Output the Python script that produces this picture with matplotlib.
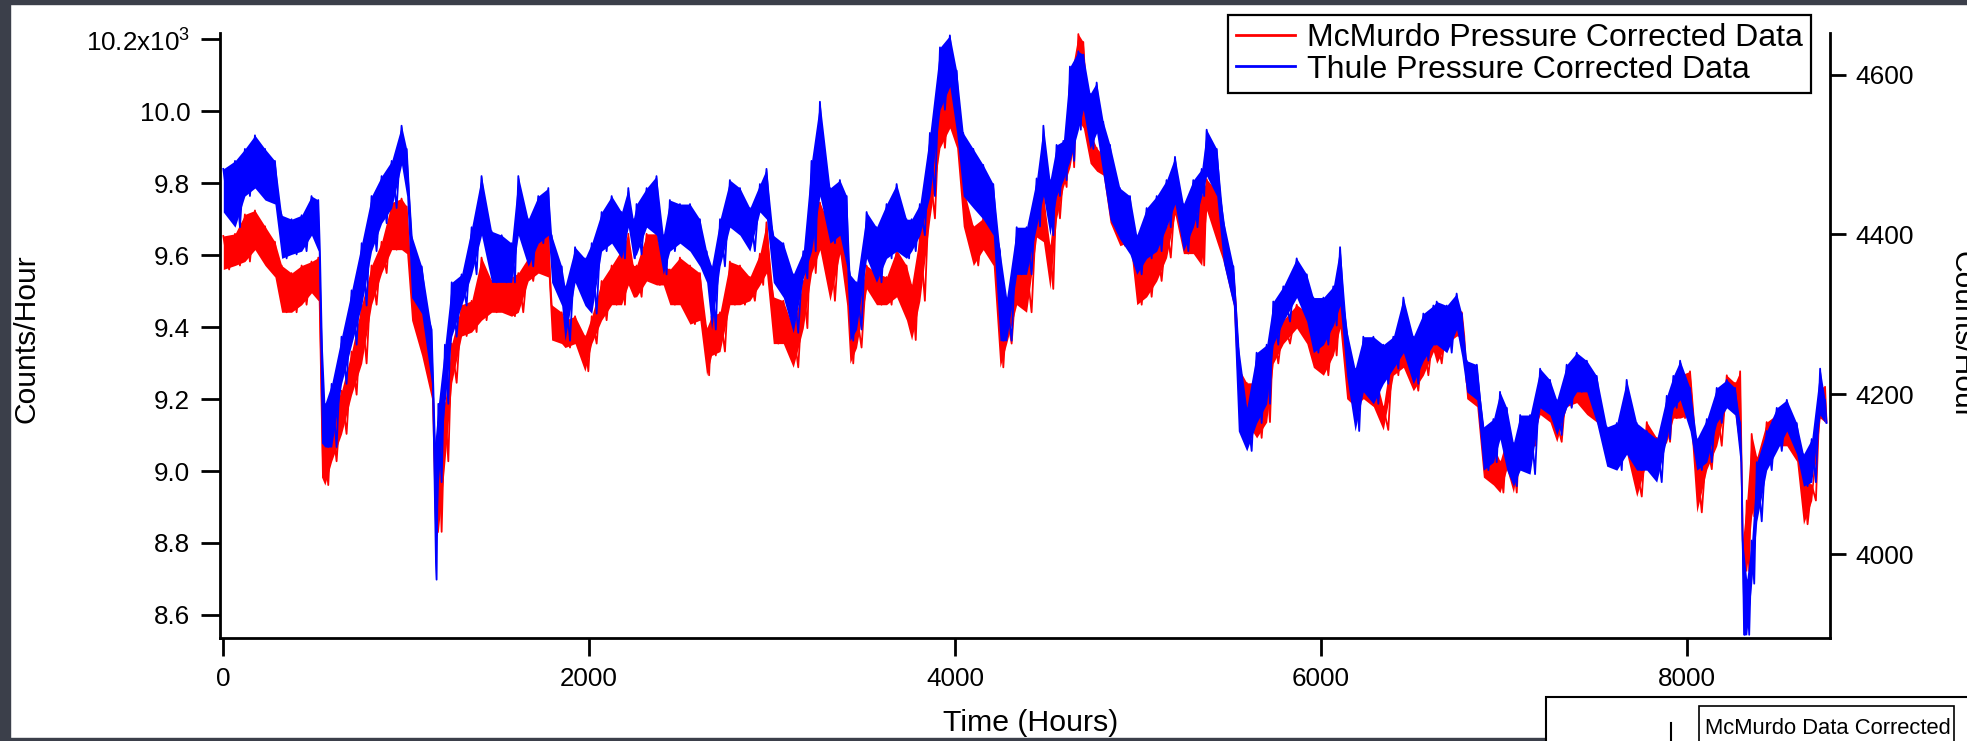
import numpy as np
import matplotlib
matplotlib.use('Agg')
import matplotlib.pyplot as plt
from matplotlib.patches import Rectangle
from matplotlib.lines import Line2D
from matplotlib.ticker import FuncFormatter

plt.rcParams['font.family'] = ['Liberation Sans', 'DejaVu Sans']
plt.rcParams['mathtext.fontset'] = 'custom'
plt.rcParams['mathtext.rm'] = 'Liberation Sans'

# sample times (hours) and upper / lower extent of each noisy trace
hours = [2, 66, 120, 175, 230, 284, 321, 375, 430, 484, 521, 539, 557, 594, 648, 703, 758, 812, 867, 922,
         976, 1004, 1031, 1086, 1140, 1158, 1177, 1213, 1250, 1304, 1359, 1413, 1468, 1523, 1577, 1614, 1668,
         1723, 1778, 1796, 1851, 1869, 1924, 1978, 2015, 2069, 2124, 2178, 2215, 2242,
         2260, 2315, 2369, 2406, 2442, 2497, 2552, 2606, 2643, 2670, 2716, 2770, 2825, 2879, 2934, 2970, 3007,
         3062, 3116, 3171, 3216, 3262, 3317, 3371, 3408, 3426, 3462, 3517, 3571, 3626, 3681, 3735, 3763, 3808,
         3863, 3918, 3972, 4009, 4045, 4100, 4154, 4209, 4246, 4282, 4337, 4391, 4446,
         4483, 4519, 4555, 4592, 4628, 4674, 4701, 4738, 4774, 4810, 4847, 4901, 4956, 4993, 5047, 5102, 5156,
         5202, 5248, 5302, 5348, 5375, 5430, 5466, 5521, 5548, 5594, 5648, 5703, 5739, 5794, 5867, 5922, 5958,
         6013, 6067, 6104, 6140, 6186, 6231, 6286, 6340, 6395, 6450, 6504, 6559, 6614,
         6632, 6687, 6741, 6769, 6796, 6851, 6887, 6942, 6978, 7015, 7051, 7088, 7142, 7197, 7251, 7288, 7342,
         7397, 7452, 7506, 7561, 7616, 7670, 7725, 7780, 7834, 7889, 7925, 7962, 8016, 8053, 8108, 8162, 8217,
         8262, 8290, 8304, 8326, 8353, 8381, 8435, 8490, 8545, 8599, 8636, 8681, 8727, 8754]

# McMurdo (left axis, counts/hour)
mcm_hi = [9653, 9659, 9713, 9724, 9680, 9637, 9571, 9550, 9571, 9582, 9593, 9245, 9070, 9157, 9223, 9332, 9462,
          9571, 9637, 9746, 9757, 9735, 9528, 9462, 9299, 9027, 9136, 9190, 9354, 9462, 9473, 9593, 9528, 9528,
          9539, 9550, 9593, 9637, 9659, 9462, 9441, 9419, 9430, 9375, 9430, 9528, 9571, 9615, 9659, 9571,
          9571, 9659, 9659, 9571, 9560, 9593, 9571, 9550, 9397, 9430, 9441, 9582, 9571, 9539, 9604, 9691, 9484,
          9473, 9397, 9528, 9757, 9746, 9680, 9680, 9571, 9484, 9441, 9571, 9550, 9539, 9615, 9571, 9517, 9659,
          9833, 10051, 10094, 10007, 9789, 9680, 9702, 9680, 9473, 9441, 9550, 9571, 9740,
          9767, 9626, 9800, 9833, 10083, 10214, 10192, 9942, 9898, 9876, 9800, 9702, 9680, 9615, 9615, 9637, 9680,
          9757, 9735, 9702, 9767, 9811, 9778, 9680, 9550, 9288, 9245, 9245, 9266, 9397, 9419, 9462, 9441, 9397,
          9397, 9419, 9473, 9288, 9245, 9288, 9288, 9179, 9364, 9430, 9310, 9364, 9397,
          9375, 9419, 9462, 9441, 9245, 9266, 9114, 9070, 9027, 9092, 9027, 9136, 9136, 9223, 9179, 9136, 9245,
          9255, 9223, 9179, 9103, 9092, 9157, 9005, 9136, 9092, 9136, 9212, 9266, 9277, 9027, 9081, 9179, 9266,
          9245, 9277, 8809, 8918, 9103, 9038, 9136, 9157, 9136, 9092, 8983, 8961, 9234, 9234]
mcm_lo = [9560, 9571, 9582, 9615, 9571, 9539, 9441, 9441, 9462, 9495, 9473, 8983, 8961, 9027, 9103, 9212, 9299,
          9462, 9550, 9615, 9615, 9604, 9419, 9321, 9201, 8820, 8831, 9027, 9245, 9375, 9386, 9419, 9441, 9441,
          9430, 9441, 9528, 9550, 9539, 9364, 9354, 9343, 9354, 9277, 9354, 9419, 9462, 9462, 9517, 9484,
          9484, 9528, 9517, 9517, 9462, 9462, 9408, 9419, 9266, 9321, 9332, 9462, 9462, 9473, 9517, 9550, 9354,
          9354, 9288, 9397, 9550, 9615, 9473, 9604, 9462, 9299, 9343, 9506, 9462, 9462, 9484, 9419, 9364, 9473,
          9702, 9898, 9953, 9898, 9680, 9571, 9615, 9571, 9288, 9354, 9462, 9441, 9650,
          9637, 9506, 9702, 9789, 9844, 9974, 9953, 9855, 9833, 9822, 9691, 9626, 9637, 9462, 9484, 9528, 9593,
          9713, 9604, 9604, 9571, 9724, 9637, 9582, 9462, 9179, 9136, 9092, 9136, 9299, 9354, 9397, 9354, 9288,
          9266, 9321, 9397, 9201, 9179, 9201, 9179, 9114, 9266, 9288, 9223, 9266, 9332,
          9299, 9354, 9375, 9375, 9201, 9179, 8983, 8961, 8940, 9005, 8940, 9049, 9070, 9157, 9136, 9081, 9179,
          9190, 9157, 9136, 9049, 9027, 9049, 8929, 9027, 9038, 9081, 9147, 9147, 9157, 8885, 9005, 9070, 9190,
          9157, 9049, 8722, 8722, 8874, 8940, 9049, 9070, 9070, 9027, 8852, 8918, 9147, 9136]

# Thule (right axis, counts/hour)
thu_hi = [4482, 4492, 4507, 4524, 4507, 4492, 4424, 4419, 4424, 4448, 4443, 4281, 4188, 4213, 4272, 4330, 4389,
          4448, 4473, 4492, 4536, 4507, 4399, 4360, 4281, 4139, 4188, 4262, 4340, 4350, 4409, 4473, 4404, 4399,
          4389, 4473, 4419, 4448, 4458, 4399, 4360, 4335, 4384, 4370, 4389, 4428, 4448, 4428, 4458, 4419,
          4438, 4458, 4473, 4399, 4443, 4438, 4438, 4419, 4379, 4360, 4419, 4468, 4458, 4433, 4463, 4482, 4399,
          4389, 4350, 4379, 4492, 4566, 4458, 4468, 4448, 4350, 4340, 4428, 4409, 4438, 4463, 4419, 4419, 4438,
          4527, 4634, 4649, 4605, 4527, 4507, 4487, 4463, 4379, 4321, 4409, 4409, 4470,
          4536, 4468, 4512, 4517, 4610, 4629, 4625, 4576, 4590, 4541, 4512, 4458, 4448, 4399, 4433, 4448, 4468,
          4497, 4438, 4468, 4482, 4531, 4507, 4419, 4360, 4262, 4183, 4252, 4262, 4316, 4335, 4370, 4350, 4321,
          4321, 4335, 4384, 4281, 4232, 4272, 4272, 4262, 4272, 4321, 4272, 4301, 4311,
          4316, 4311, 4326, 4301, 4242, 4237, 4159, 4169, 4203, 4183, 4139, 4174, 4174, 4232, 4218, 4193, 4237,
          4252, 4242, 4223, 4159, 4164, 4218, 4164, 4154, 4144, 4198, 4223, 4242, 4208, 4144, 4169, 4208, 4218,
          4208, 4164, 4017, 3968, 4017, 4115, 4154, 4183, 4193, 4164, 4125, 4144, 4232, 4193]
thu_lo = [4428, 4409, 4448, 4458, 4443, 4438, 4370, 4375, 4379, 4399, 4379, 4139, 4134, 4134, 4213, 4262, 4311,
          4379, 4414, 4433, 4487, 4448, 4321, 4301, 4213, 3968, 4090, 4188, 4272, 4311, 4350, 4399, 4340, 4340,
          4340, 4399, 4360, 4389, 4399, 4340, 4311, 4267, 4340, 4311, 4301, 4379, 4389, 4370, 4409, 4370,
          4375, 4409, 4399, 4350, 4379, 4389, 4379, 4360, 4340, 4281, 4360, 4409, 4399, 4379, 4428, 4419, 4340,
          4321, 4277, 4345, 4379, 4448, 4389, 4399, 4360, 4267, 4281, 4370, 4340, 4370, 4379, 4370, 4379, 4399,
          4448, 4556, 4585, 4527, 4448, 4433, 4419, 4399, 4267, 4267, 4350, 4350, 4410,
          4448, 4399, 4448, 4468, 4492, 4531, 4556, 4507, 4527, 4473, 4419, 4394, 4375, 4350, 4370, 4379, 4409,
          4438, 4379, 4409, 4448, 4473, 4448, 4365, 4311, 4154, 4129, 4164, 4188, 4262, 4291, 4321, 4291, 4252,
          4262, 4286, 4311, 4223, 4154, 4203, 4188, 4213, 4232, 4252, 4213, 4242, 4262,
          4262, 4252, 4281, 4247, 4203, 4193, 4105, 4115, 4144, 4105, 4085, 4105, 4100, 4183, 4174, 4149, 4183,
          4203, 4203, 4164, 4110, 4105, 4125, 4105, 4105, 4090, 4144, 4183, 4193, 4154, 4105, 4115, 4164, 4183,
          4174, 4115, 3899, 3899, 3963, 4041, 4105, 4129, 4154, 4125, 4085, 4090, 4174, 4164]

left_ticks = [8600, 8800, 9000, 9200, 9400, 9600, 9800, 10000, 10200]
right_ticks = [4000, 4200, 4400, 4600]
x_ticks = [0, 2000, 4000, 6000, 8000]


def zigzag(t, hi, lo):
    # alternate between the top and bottom of the band to mimic the hourly noise
    t = np.asarray(t, float)
    mid = np.append((t[:-1] + t[1:]) / 2, t[-1] + 8)
    x = np.column_stack([t, mid]).ravel()
    y = np.column_stack([hi, lo]).ravel()
    return x, y


W, H = 1967, 741
fig = plt.figure(figsize=(W / 100, H / 100), dpi=100)
ax = fig.add_axes([220 / W, 1 - 638 / H, (1830 - 220) / W, (638 - 33) / H])
ax2 = ax.twinx()

red = '#ff0000'
blue = '#0000ff'

ax.fill_between(hours, mcm_lo, mcm_hi, color=red, lw=0)
x, y = zigzag(hours, mcm_hi, mcm_lo)
ax.plot(x, y, color=red, lw=1.3)

ax2.fill_between(hours, thu_lo, thu_hi, color=blue, lw=0)
x, y = zigzag(hours, thu_hi, thu_lo)
ax2.plot(x, y, color=blue, lw=1.3)

ax.set_xlim(-16, 8781)
ax.set_ylim(8536, 10217)
ax2.set_ylim(3895, 4652)

for a in (ax, ax2):
    a.spines['top'].set_visible(False)
    for s in a.spines.values():
        s.set_linewidth(2)
ax.spines['right'].set_visible(False)
ax2.spines['left'].set_visible(False)
ax2.spines['bottom'].set_visible(False)

ax.set_xticks(x_ticks)
ax.set_yticks(left_ticks)
ax2.set_yticks(right_ticks)


def left_fmt(v, pos):
    if v >= 10200:
        return r'10.2x10$^{\mathregular{3}}$'
    return f'{v / 1000:.1f}'


ax.yaxis.set_major_formatter(FuncFormatter(left_fmt))
ax.tick_params(axis='y', direction='out', length=13.5, width=2, pad=8, labelsize=18.7)
ax.tick_params(axis='x', direction='out', length=13, width=2, pad=8, labelsize=18.7)
ax2.tick_params(axis='y', direction='out', length=11.5, width=2, pad=6.5, labelsize=19)

handles = [Line2D([], [], color=red, lw=2), Line2D([], [], color=blue, lw=2)]
leg = fig.legend(handles, ['McMurdo Pressure Corrected Data', 'Thule Pressure Corrected Data'],
                 loc='upper right', bbox_to_anchor=(1811 / W, 1 - 15 / H), fontsize=23,
                 frameon=True, fancybox=False, edgecolor='black', framealpha=1,
                 handlelength=1.85, handletextpad=0.37, labelspacing=0.05, borderpad=0.25,
                 borderaxespad=0)
leg.get_frame().set_linewidth(1.6)

fig.text(1031 / W, 1 - 731 / H, 'Time (Hours)', ha='center', va='baseline', fontsize=21.8)
fig.text(27 / W, 1 - 339 / H, 'Counts/Hour', rotation=90, ha='center', va='center', fontsize=21.6)
fig.text(1961 / W, 1 - 335 / H, 'Counts/Hour', rotation=270, ha='center', va='center', fontsize=21.6)

# screenshot frame and the corner of the next chart
dark = '#3b3f4a'
tf = fig.transFigure
fig.patches.append(Rectangle((0, 1 - 4 / H), 1, 4 / H, transform=tf, color=dark, zorder=10))
fig.patches.append(Rectangle((0, 0), 10 / W, 1, transform=tf, color=dark, zorder=10))
fig.patches.append(Rectangle((0, 0), 1546 / W, 3 / H, transform=tf, color=dark, zorder=10))
fig.patches.append(Rectangle((1546 / W, -0.05), 0.3, 0.05 + 1 - 697 / H, transform=tf,
                             facecolor='white', edgecolor='black', lw=1.5, zorder=11))
fig.patches.append(Rectangle((1699 / W, -0.05), (1954 - 1699) / W, 0.05 + 1 - 706 / H, transform=tf,
                             facecolor='white', edgecolor='black', lw=1.2, zorder=12))
fig.lines.append(Line2D([1671 / W, 1671 / W], [0, 1 - 723 / H], transform=tf, color='black', lw=1.5, zorder=12))
fig.text(1705 / W, 1 - 728 / H, 'McMurdo Data Corrected', ha='left', va='center', fontsize=15.8, zorder=13)

fig.savefig('out.png', dpi=100)
